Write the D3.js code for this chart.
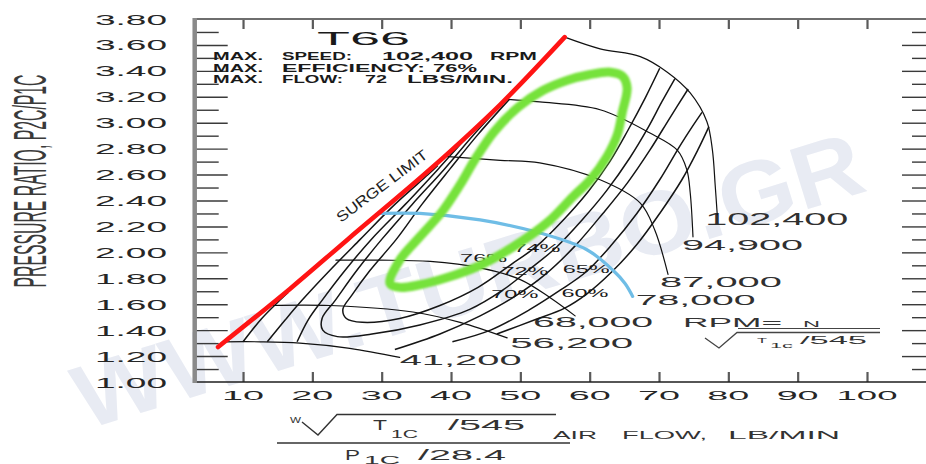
<!DOCTYPE html>
<html>
<head>
<meta charset="utf-8">
<title>T66 compressor map</title>
<script src="https://cdn.jsdelivr.net/npm/d3@7/dist/d3.min.js"></script>
<style>
  html, body { margin: 0; padding: 0; background: #ffffff; }
  svg { display: block; }
  text { font-family: "Liberation Sans", Arial, Helvetica, sans-serif; }
</style>
</head>
<body>
<svg id="chart" width="926" height="464"></svg>
<script>
// ---------------- data ----------------
const xTickValues = [10, 20, 30, 40, 50, 60, 70, 80, 90, 100];
const xTickLabels = ["10", "20", "30", "40", "50", "60", "70", "80", "90", "100"];
const yTickValues = [1.0, 1.2, 1.4, 1.6, 1.8, 2.0, 2.2, 2.4, 2.6, 2.8, 3.0, 3.2, 3.4, 3.6, 3.8];
const yTickLabels = ["1.00", "1.20", "1.40", "1.60", "1.80", "2.00", "2.20", "2.40",
                     "2.60", "2.80", "3.00", "3.20", "3.40", "3.60", "3.80"];
const yMinorValues = [1.1, 1.3, 1.5, 1.7, 1.9, 2.1, 2.3, 2.5, 2.7, 2.9, 3.1, 3.3, 3.5, 3.7];

// surge limit (corrected flow, pressure ratio)
const surgeFlow = [6.4, 16.8, 25.1, 37.4, 47.1, 56.4];
const surgePR   = [1.27, 1.72, 2.10, 2.66, 3.14, 3.66];

// corrected speed lines, RPM
const speedLabels = ["41,200", "56,200", "68,000", "78,000", "87,000", "94,900", "102,400"];
const speedFlow = [
  [7.3, 12.5, 18.2, 25.4, 32.6],
  [13.9, 22.5, 34.5, 41.3, 48.1],
  [23.4, 29.8, 37.0, 44.2, 50.0, 54.3, 57.9],
  [29.9, 35.5, 44.2, 52.8, 59.6, 63.4, 65.1, 66.2],
  [39.1, 47.1, 52.8, 61.5, 67.3, 69.4, 71.3],
  [48.2, 52.8, 61.5, 68.7, 72.6, 74.0, 74.5, 74.9],
  [56.4, 61.5, 67.3, 71.2, 74.5, 76.9, 77.7, 78.1, 78.4]
];
const speedPR = [
  [1.31, 1.31, 1.30, 1.26, 1.19],
  [1.59, 1.59, 1.54, 1.46, 1.34],
  [1.94, 1.94, 1.93, 1.88, 1.79, 1.65, 1.51],
  [2.30, 2.30, 2.25, 2.15, 2.02, 1.86, 1.76, 1.66],
  [2.74, 2.71, 2.69, 2.56, 2.38, 2.17, 1.83],
  [3.18, 3.16, 3.10, 2.92, 2.79, 2.64, 2.46, 2.12],
  [3.66, 3.57, 3.51, 3.39, 3.23, 3.01, 2.79, 2.52, 2.29]
];

// efficiency contours
const eff74Flow = [48.4, 43.9, 39.8, 35.8, 32.1, 28.3, 25.7, 24.4, 24.9, 27.2, 32.6, 38.4, 43.9, 48.5, 52.4, 56.2, 59.8, 62.9, 65.5, 68.0, 70.1];
const eff74PR   = [3.18, 2.91, 2.64, 2.37, 2.10, 1.86, 1.67, 1.56, 1.49, 1.46, 1.49, 1.59, 1.73, 1.90, 2.05, 2.25, 2.47, 2.70, 2.94, 3.19, 3.42];
const eff72Flow = [47.8, 43.3, 39.0, 34.4, 30.0, 26.4, 23.3, 21.4, 21.5, 23.6, 28.6, 35.5, 42.7, 47.5, 51.1, 55.0, 58.9, 62.5, 65.8, 68.4, 70.4, 72.3];
const eff72PR   = [3.17, 2.91, 2.64, 2.37, 2.10, 1.86, 1.63, 1.49, 1.40, 1.35, 1.37, 1.44, 1.56, 1.71, 1.86, 2.03, 2.25, 2.48, 2.73, 2.96, 3.16, 3.34];
const eff70LowFlow  = [17.8, 19.4, 21.4, 24.7, 28.5, 33.4, 38.1, 42.7, 47.4];
const eff70LowPR    = [1.31, 1.48, 1.63, 1.86, 2.10, 2.37, 2.64, 2.91, 3.14];
const eff70HighFlow = [31.9, 38.4, 44.2, 49.2, 53.6, 57.9, 61.9, 65.5, 68.7, 71.6, 74.2];
const eff70HighPR   = [1.25, 1.37, 1.51, 1.66, 1.83, 2.05, 2.30, 2.54, 2.79, 3.04, 3.26];
const eff65LowFlow  = [13.5, 16.1, 18.5, 22.5, 26.9, 31.9, 36.7, 38.1];
const eff65LowPR    = [1.31, 1.48, 1.63, 1.86, 2.10, 2.37, 2.60, 2.67];
const eff65HighFlow = [40.2, 45.7, 51.4, 55.8, 59.5, 63.2, 66.8, 70.1, 73.0, 74.8, 76.2];
const eff65HighPR   = [1.31, 1.40, 1.56, 1.71, 1.85, 2.06, 2.30, 2.56, 2.82, 2.97, 3.08];
const eff60LowFlow  = [10.0, 12.7, 15.3, 16.5];
const eff60LowPR    = [1.31, 1.49, 1.63, 1.69];
const eff60HighFlow = [46.6, 52.1, 56.4, 59.6, 63.2, 66.8, 70.1, 73.3, 75.6, 77.2];
const eff60HighPR   = [1.37, 1.48, 1.57, 1.68, 1.85, 2.06, 2.30, 2.56, 2.79, 2.97];

// hand-drawn highlight around the 76% island
const peakFlow = [31.2, 32.6, 35.5, 38.8, 41.3, 43.5, 46.2, 49.7, 53.3, 56.9, 59.9, 63.0, 64.7,
                  65.4, 64.7, 64.0, 62.5, 60.1, 57.6, 53.9, 48.9, 44.2, 39.1, 35.5, 32.6];
const peakPR   = [1.76, 1.94, 2.12, 2.32, 2.52, 2.72, 2.93, 3.12, 3.25, 3.33, 3.37, 3.39, 3.36,
                  3.27, 3.08, 2.91, 2.74, 2.56, 2.43, 2.23, 2.04, 1.90, 1.80, 1.75, 1.73];

// ---------------- drawing ----------------
const svg = d3.select("#chart");
const x = d3.scaleLinear().domain([0, 100]).range([173.7, 867]);
const y = d3.scaleLinear().domain([1, 3.8]).range([382, 19]);
const frameLeft = x(3.03);
const frameRight = 932;
const frameTop = y(3.8);
const frameBottom = y(1.0);

const zip = (fs, ps) => fs.map((f, i) => [f, ps[i]]);
const path = d3.line().x(d => x(d[0])).y(d => y(d[1])).curve(d3.curveCatmullRom.alpha(0.5));
const closedPath = d3.line().x(d => x(d[0])).y(d => y(d[1])).curve(d3.curveCatmullRomClosed.alpha(0.5));

// stretched text: glyphs are fitted between x0 and x1
function wideText(parent, str, x0, x1, baseline, size, opts = {}) {
  return parent.append("text")
    .attr("x", x0).attr("y", baseline)
    .attr("textLength", x1 - x0).attr("lengthAdjust", "spacingAndGlyphs")
    .style("font-size", size + "px")
    .style("font-weight", opts.weight || "normal")
    .attr("fill", opts.fill || "#262626")
    .text(str);
}

// faint watermark
svg.append("text")
  .attr("transform", "translate(85,430) rotate(-17)")
  .attr("textLength", 820).attr("lengthAdjust", "spacingAndGlyphs")
  .style("font-size", "90px").style("font-weight", "bold")
  .attr("fill", "#e8ebf3")
  .text("WWW.TURBO.GR");

// ----- frame and ticks -----
const axes = svg.append("g");
const styleTicks = (g, color, width) => {
  g.select(".domain").remove();
  g.selectAll(".tick line").attr("stroke", color).attr("stroke-width", width);
};
const yMajor = yTickValues.filter(v => v > 1.05 && v < 3.75);

axes.append("g").attr("transform", `translate(${frameLeft},0)`)
  .call(d3.axisRight(y).tickValues(yMajor).tickSize(33).tickFormat(""))
  .call(g => styleTicks(g, "#3a3a3a", 1.4));
axes.append("g").attr("transform", `translate(${frameLeft},0)`)
  .call(d3.axisRight(y).tickValues(yMinorValues).tickSize(24).tickFormat(""))
  .call(g => styleTicks(g, "#3a3a3a", 1.4));
axes.append("g").attr("transform", `translate(927,0)`)
  .call(d3.axisLeft(y).tickValues(yMajor).tickSize(25).tickFormat(""))
  .call(g => styleTicks(g, "#3a3a3a", 1.4));
axes.append("g").attr("transform", `translate(927,0)`)
  .call(d3.axisLeft(y).tickValues(yMinorValues).tickSize(15).tickFormat(""))
  .call(g => styleTicks(g, "#3a3a3a", 1.4));
axes.append("g").attr("transform", `translate(0,${frameTop})`)
  .call(d3.axisBottom(x).tickValues(xTickValues).tickSize(10).tickFormat(""))
  .call(g => styleTicks(g, "#5a5a5a", 2.2));
axes.append("g").attr("transform", `translate(0,${frameBottom})`)
  .call(d3.axisTop(x).tickValues(xTickValues).tickSize(10).tickFormat(""))
  .call(g => styleTicks(g, "#5a5a5a", 2.2));

axes.append("line").attr("x1", frameLeft).attr("x2", frameRight)
  .attr("y1", frameTop).attr("y2", frameTop).attr("stroke", "#6e6e6e").attr("stroke-width", 2);
axes.append("line").attr("x1", frameLeft).attr("x2", frameRight)
  .attr("y1", frameBottom).attr("y2", frameBottom).attr("stroke", "#1e1e1e").attr("stroke-width", 1.7);
axes.append("line").attr("x1", frameLeft).attr("x2", frameLeft)
  .attr("y1", frameTop - 1).attr("y2", frameBottom + 1).attr("stroke", "#8a8a8a").attr("stroke-width", 4.5);

// tick labels
const labels = svg.append("g");
yTickValues.forEach((v, i) => wideText(labels, yTickLabels[i], 95, 167, y(v) + 5.5, 14));
xTickValues.forEach((v, i) => {
  const w = xTickLabels[i].length > 2 ? 61 : 42;
  wideText(labels, xTickLabels[i], x(v) - w / 2, x(v) + w / 2, 400, 13.5);
});

// axis title (pressure ratio): tall, narrow lettering
labels.append("text")
  .attr("transform", "translate(46,181) rotate(-90) scale(1,2.9)")
  .attr("text-anchor", "middle")
  .attr("textLength", 213).attr("lengthAdjust", "spacingAndGlyphs")
  .style("font-size", "15.7px")
  .attr("fill", "#3a3a3a")
  .text("PRESSURE RATIO, P2C/P1C");

// ----- efficiency contours -----
const effGroup = svg.append("g").attr("fill", "none").attr("stroke", "#151515")
  .attr("stroke-width", 1.5);
const effPieces = [
  zip(eff74Flow, eff74PR), zip(eff72Flow, eff72PR),
  zip(eff70LowFlow, eff70LowPR), zip(eff70HighFlow, eff70HighPR),
  zip(eff65LowFlow, eff65LowPR), zip(eff65HighFlow, eff65HighPR),
  zip(eff60LowFlow, eff60LowPR), zip(eff60HighFlow, eff60HighPR)
];
effPieces.forEach(p => effGroup.append("path").attr("d", path(p)));

// ----- speed lines -----
const speedGroup = svg.append("g").attr("fill", "none");
speedLabels.forEach((lab, i) => {
  const blue = lab === "78,000";
  speedGroup.append("path")
    .attr("d", path(zip(speedFlow[i], speedPR[i])))
    .attr("stroke", blue ? "#6fbde6" : "#111")
    .attr("stroke-width", blue ? 3.2 : 1.2)
    .attr("stroke-linecap", "round");
});

// ----- surge limit -----
svg.append("path")
  .attr("d", path(zip(surgeFlow, surgePR)))
  .attr("fill", "none").attr("stroke", "#ff1414").attr("stroke-width", 4.6)
  .attr("stroke-linecap", "round");

// ----- hand-drawn highlight -----
const defs = svg.append("defs");
defs.append("filter").attr("id", "soft").append("feGaussianBlur").attr("stdDeviation", 0.8);
svg.append("path")
  .attr("d", closedPath(zip(peakFlow, peakPR)))
  .attr("fill", "none").attr("stroke", "#76e23a").attr("stroke-width", 9)
  .attr("stroke-linejoin", "round").attr("filter", "url(#soft)");

// ----- speed labels -----
const speedLabelPos = [
  { dx: 0, dy: 8, w: 122, size: 14 },
  { dx: 3, dy: 10, w: 123, size: 14 },
  { dx: -42, dy: 11, w: 120, size: 14 },
  { dx: 3, dy: 9, w: 120, size: 14 },
  { dx: -8, dy: 13, w: 122, size: 14 },
  { dx: -11, dy: 13, w: 121, size: 14 },
  { dx: -12, dy: 10, w: 143, size: 16 }
];
speedLabels.forEach((lab, i) => {
  const n = speedFlow[i].length - 1;
  const px = x(speedFlow[i][n]) + speedLabelPos[i].dx;
  const py = y(speedPR[i][n]) + speedLabelPos[i].dy;
  wideText(labels, lab, px, px + speedLabelPos[i].w, py, speedLabelPos[i].size, { fill: "#303030" });
});

// ----- efficiency labels (centred on a contour point) -----
const effLabelSpots = [
  { text: "76%", pt: [peakFlow[21], peakPR[21]], dx: 3.5, dy: -6.5 },
  { text: "74%", pt: [eff74Flow[14], eff74PR[14]], dx: 0, dy: 2.5 },
  { text: "72%", pt: [eff72Flow[14], eff72PR[14]], dx: -3, dy: 0.5 },
  { text: "70%", pt: [eff70HighFlow[3], eff70HighPR[3]], dx: 0, dy: -2.5 },
  { text: "65%", pt: [eff65HighFlow[4], eff65HighPR[4]], dx: 0, dy: -2.5 },
  { text: "60%", pt: [eff60HighFlow[3], eff60HighPR[3]], dx: -2, dy: 0 }
];
effLabelSpots.forEach(s => {
  const cx = x(s.pt[0]) + s.dx, cy = y(s.pt[1]) + s.dy;
  wideText(labels, s.text, cx - 23.5, cx + 23.5, cy + 3.6, 10, { fill: "#1a1a1a" });
});

// surge label along the line
labels.append("text")
  .attr("transform", "translate(341,223) rotate(-37)")
  .attr("textLength", 110).attr("lengthAdjust", "spacingAndGlyphs")
  .style("font-size", "14.5px").attr("fill", "#1e1e1e")
  .text("SURGE LIMIT");

// ----- heading block -----
wideText(labels, "T66", 317, 410, 45, 18, { fill: "#1a1a1a" });
const head = [
  [["MAX.", 213, 263], ["SPEED:", 282, 352], ["102,400", 382, 473], ["RPM", 490, 537]],
  [["MAX.", 213, 263], ["EFFICIENCY:", 282, 425], ["76%", 433, 477]],
  [["MAX.", 213, 263], ["FLOW:", 282, 343], ["72", 365, 387], ["LBS/MIN.", 407, 513]]
];
const headBase = [59.5, 71.5, 83];
head.forEach((row, r) => row.forEach(([t, a, b]) =>
  wideText(labels, t, a, b, headBase[r], 10, { weight: "bold", fill: "#1a1a1a" })));

// ----- corrected speed formula -----
wideText(labels, "RPM=", 683, 782, 326.5, 12.5, { fill: "#333" });
wideText(labels, "N", 803, 820, 326.5, 8.5, { fill: "#333" });
labels.append("line").attr("x1", 738).attr("x2", 880).attr("y1", 328.5).attr("y2", 328.5)
  .attr("stroke", "#444").attr("stroke-width", 1.2);
labels.append("path").attr("d", "M705,338 L719,348 L737,332.5 L880,332.5")
  .attr("fill", "none").attr("stroke", "#444").attr("stroke-width", 1.3);
wideText(labels, "T", 757, 767, 343, 8, { fill: "#333" });
wideText(labels, "1c", 770, 793, 348, 8, { fill: "#333" });
wideText(labels, "/545", 800, 867, 344, 11, { fill: "#333" });

// ----- corrected flow formula -----
wideText(labels, "W", 290, 301, 423, 9, { fill: "#333" });
labels.append("path").attr("d", "M302,422 L318,435 L337,414.5 L556,414.5")
  .attr("fill", "none").attr("stroke", "#333").attr("stroke-width", 1.4);
wideText(labels, "T", 373, 387, 430, 15, { fill: "#333" });
wideText(labels, "1C", 391, 418, 437.5, 10, { fill: "#333" });
wideText(labels, "/545", 448, 525, 430, 15, { fill: "#333" });
labels.append("line").attr("x1", 277).attr("x2", 570).attr("y1", 443).attr("y2", 443)
  .attr("stroke", "#333").attr("stroke-width", 1.4);
wideText(labels, "AIR", 553, 597, 438.5, 11, { fill: "#333" });
wideText(labels, "FLOW,", 622, 707, 438.5, 11, { fill: "#333" });
wideText(labels, "LB/MIN", 728, 840, 438.5, 11, { fill: "#333" });
wideText(labels, "P", 345, 360, 459.5, 14, { fill: "#333" });
wideText(labels, "1C", 364, 400, 463.5, 10.5, { fill: "#333" });
wideText(labels, "/28.4", 418, 506, 459.5, 14, { fill: "#333" });
</script>
</body>
</html>
